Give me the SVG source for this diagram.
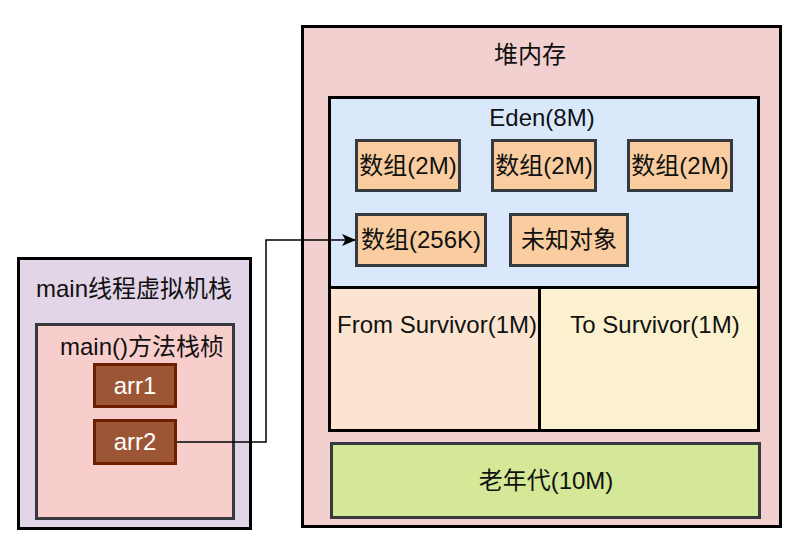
<svg xmlns="http://www.w3.org/2000/svg" width="796" height="544" viewBox="0 0 796 544">
<style>
text{font-family:"Liberation Sans","Noto Sans CJK SC",Arial,sans-serif;font-size:24px;fill:#111;text-anchor:middle}
.blk{stroke:#000;stroke-width:3}
.dk{stroke:#36393d;stroke-width:3}
.arr{fill:#9c5636;stroke:#6d1f00;stroke-width:3}
.box{fill:#f9cd9f}
.w{fill:#fff}
</style>
<defs>
<marker id="ah" markerWidth="14" markerHeight="12" refX="13" refY="6" orient="auto" markerUnits="userSpaceOnUse">
<path d="M0,0 L14,6 L0,12 L3.5,6 Z" fill="#000"/>
</marker>
</defs>
<g id="stack">
<rect class="blk" x="18.5" y="258.5" width="232" height="270" fill="#e1d5e7"/>
<text x="134" y="297">main线程虚拟机栈</text>
</g>
<g id="frame">
<rect class="dk" x="36.5" y="324.5" width="197" height="194" fill="#f8cecc"/>
<text x="142" y="355">main()方法栈桢</text>
</g>
<g id="arr1">
<rect class="arr" x="94.5" y="364.5" width="81" height="42"/>
<text class="w" x="135" y="394">arr1</text>
</g>
<g id="arr2">
<rect class="arr" x="94.5" y="420.5" width="81" height="43"/>
<text class="w" x="135" y="450">arr2</text>
</g>
<g id="heap">
<rect class="blk" x="302.5" y="26.5" width="478" height="500" fill="#f1d0cf"/>
<text x="530" y="63">堆内存</text>
</g>
<g id="eden">
<rect class="blk" x="329.5" y="97.5" width="429" height="190" fill="#dae8fc"/>
<text x="542" y="126">Eden(8M)</text>
</g>
<g id="arrA">
<rect class="dk box" x="356.5" y="140.5" width="103" height="50"/>
<text x="408" y="174">数组(2M)</text>
</g>
<g id="arrB">
<rect class="dk box" x="492.5" y="140.5" width="103" height="50"/>
<text x="544" y="174">数组(2M)</text>
</g>
<g id="arrC">
<rect class="dk box" x="628.5" y="140.5" width="103" height="50"/>
<text x="680" y="174">数组(2M)</text>
</g>
<g id="arrD">
<rect class="dk box" x="356.5" y="214.5" width="129" height="51"/>
<text x="421" y="248">数组(256K)</text>
</g>
<g id="unknown">
<rect class="dk box" x="510.5" y="214.5" width="117" height="51"/>
<text x="569" y="248">未知对象</text>
</g>
<g id="from">
<rect class="blk" x="329.5" y="287.5" width="210" height="143" fill="#fbe5d0"/>
<text x="437" y="333">From Survivor(1M)</text>
</g>
<g id="to">
<rect class="blk" x="539.5" y="287.5" width="219" height="143" fill="#fcf1cf"/>
<text x="655" y="333">To Survivor(1M)</text>
</g>
<g id="old">
<rect class="dk" x="331.5" y="443.5" width="428" height="74" fill="#d4e897"/>
<text x="546" y="489">老年代(10M)</text>
</g>
<g id="connectors">
<path d="M177,442 H266 V240 H355" fill="none" stroke="#000" stroke-width="1.5" marker-end="url(#ah)"/>
</g>
</svg>
